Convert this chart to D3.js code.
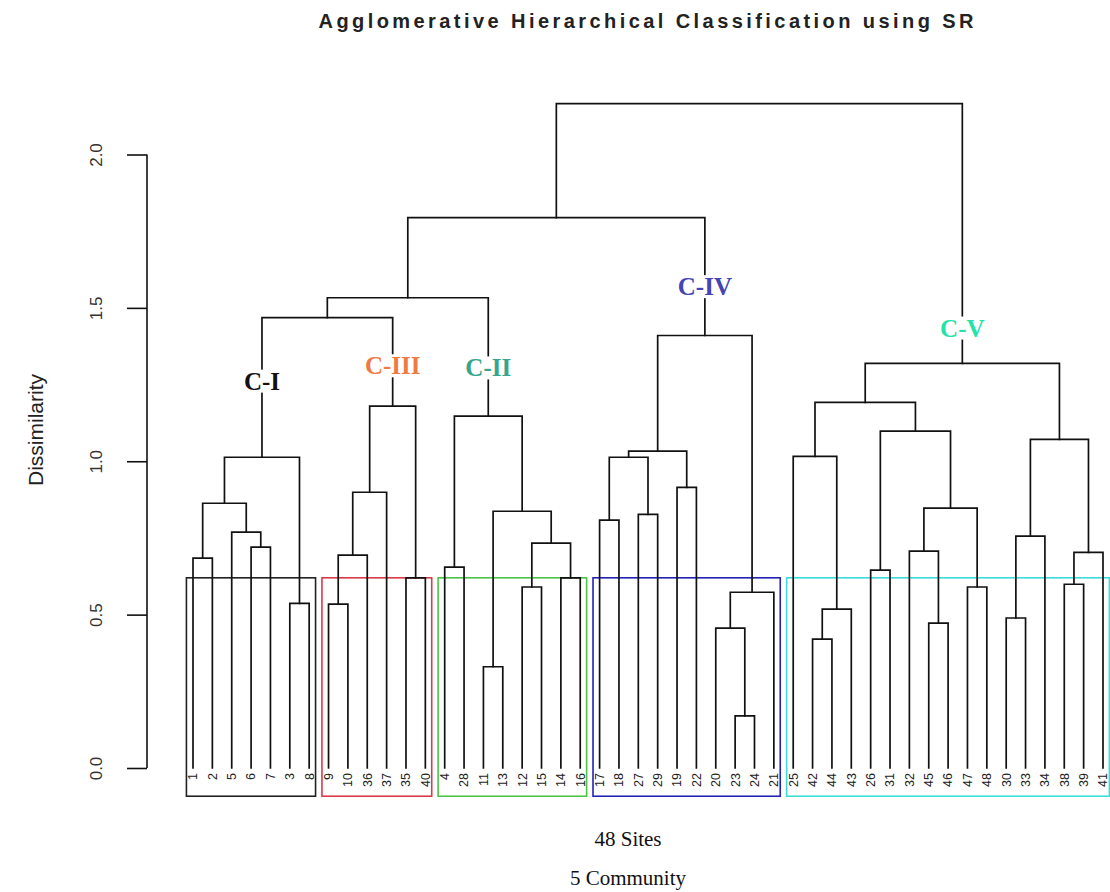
<!DOCTYPE html>
<html>
<head>
<meta charset="utf-8">
<script src="https://cdn.jsdelivr.net/npm/d3@7"></script>
<style>
  html, body { margin: 0; padding: 0; background: #fff; }
  svg { display: block; }
</style>
</head>
<body>
<svg id="chart" width="1110" height="892"></svg>
<script>
// Leaf order of the 48 sites along the x axis (as returned by hclust $order)
const siteOrder = [1, 2, 5, 6, 7, 3, 8, 9, 10, 36, 37, 35, 40, 4, 28, 11, 13, 12, 15, 14, 16,
  17, 18, 27, 29, 19, 22, 20, 23, 24, 21, 25, 42, 44, 43, 26, 31, 32, 45, 46, 47, 48,
  30, 33, 34, 38, 39, 41];

// Merge table in hclust style: negative = site, positive = earlier merge row (1-based)
const mergeLeft  = [-1, -6, -5, 1, -3, 4, -9, 7, 8, -35, 9, -4, -11, -12, -14, 14, 13, 12,
  -17, -27, 19, -19, 21, -23, -20, 25, 23, -42, 28, -25, -26, -45, -32, -47, 33, 31, 30,
  -30, 38, -38, 40, 39, 37, 6, 44, 45, 46];
const mergeRight = [-2, -7, 2, 3, -8, 5, -10, -36, -37, -40, 10, -28, -13, -15, -16, 15, 16, 17,
  -18, -29, 20, -22, 22, -24, 24, -21, 26, -44, -43, 29, -31, -46, 32, -48, 34, 35, 36,
  -33, -34, -39, -41, 41, 42, 11, 18, 27, 43];
const mergeHeight = [0.684, 0.72, 0.769, 0.863, 0.537, 1.013, 0.534, 0.694, 0.899, 0.62, 1.18,
  0.655, 0.33, 0.59, 0.62, 0.733, 0.837, 1.147, 0.808, 0.827, 1.013, 0.915, 1.033, 0.17,
  0.456, 0.573, 1.41, 0.42, 0.518, 1.016, 0.645, 0.472, 0.707, 0.59, 0.847, 1.098, 1.192,
  0.489, 0.756, 0.599, 0.703, 1.071, 1.319, 1.468, 1.533, 1.794, 2.166];

// Five communities: the merge row heading each one, with its name
const communityNode  = [6, 11, 18, 27, 43];
const communityNames = ["C-I", "C-III", "C-II", "C-IV", "C-V"];

// Axis ticks
const yTicks = [0.0, 0.5, 1.0, 1.5, 2.0];

// ---- styling / layout ----
const boxColors   = ["#222222", "#d93a4a", "#4cc447", "#2323b4", "#3ddcd6"];
const labelColors = ["#111111", "#f07a42", "#35a68b", "#4444b2", "#22e3aa"];
const labelHeights = [1.262, 1.312, 1.305, 1.57, 1.435];
const boxTop = 0.62, boxBottom = -0.092;

const svg = d3.select("#chart");

const x = d3.scalePoint().domain(siteOrder).range([193, 1103]);
const step = x.step();
const y = d3.scaleLinear().domain([0, 2]).range([768, 154.5]);

// node positions
const nodeX = [], nodeSpan = [];
function childX(c) { return c < 0 ? x(-c) : nodeX[c - 1]; }
function childH(c) { return c < 0 ? 0 : mergeHeight[c - 1]; }
function childSpan(c) {
  if (c < 0) { const i = siteOrder.indexOf(-c); return [i, i]; }
  return nodeSpan[c - 1];
}
for (let i = 0; i < mergeHeight.length; i++) {
  nodeX[i] = (childX(mergeLeft[i]) + childX(mergeRight[i])) / 2;
  const a = childSpan(mergeLeft[i]), b = childSpan(mergeRight[i]);
  nodeSpan[i] = [Math.min(a[0], b[0]), Math.max(a[1], b[1])];
}

// community boxes
const boxes = svg.append("g").attr("fill", "none").attr("stroke-width", 1.6);
communityNode.forEach((n, k) => {
  const [i0, i1] = nodeSpan[n - 1];
  const x0 = x(siteOrder[i0]) - 0.34 * step;
  const x1 = x(siteOrder[i1]) + 0.33 * step;
  boxes.append("rect")
    .attr("x", x0).attr("y", y(boxTop))
    .attr("width", x1 - x0).attr("height", y(boxBottom) - y(boxTop))
    .attr("stroke", boxColors[k]);
});

// dendrogram branches
const tree = svg.append("g").attr("fill", "none").attr("stroke", "#111")
  .attr("stroke-width", 1.7).attr("stroke-linecap", "square");
mergeHeight.forEach((h, i) => {
  const xl = childX(mergeLeft[i]), xr = childX(mergeRight[i]);
  const hl = childH(mergeLeft[i]), hr = childH(mergeRight[i]);
  tree.append("path")
    .attr("d", `M${xl},${y(hl)}V${y(h)}H${xr}V${y(hr)}`);
});

// leaf labels
svg.append("g").selectAll("text").data(siteOrder).join("text")
  .attr("transform", d => `translate(${x(d)},773) rotate(-90)`)
  .attr("text-anchor", "end").attr("dy", "0.35em")
  .attr("font-family", "Liberation Sans, Arial, sans-serif")
  .attr("font-size", 12.5).attr("fill", "#222")
  .text(d => d);

// y axis
const axis = d3.axisLeft(y).tickValues(yTicks).tickFormat(d3.format(".1f")).tickSize(20);
const ag = svg.append("g").attr("transform", "translate(147,0)").call(axis);
ag.select(".domain").attr("d", `M0,${y(0)}V${y(2)}`).attr("stroke", "#111").attr("stroke-width", 1.6);
ag.selectAll(".tick line").attr("stroke", "#111").attr("stroke-width", 1.6);
ag.selectAll(".tick text")
  .attr("x", null).attr("dy", null)
  .attr("transform", "translate(-45,0) rotate(-90)")
  .attr("text-anchor", "middle")
  .attr("font-family", "Liberation Sans, Arial, sans-serif")
  .attr("font-size", 17).attr("fill", "#333");

svg.append("text")
  .attr("transform", "translate(43,430) rotate(-90)")
  .attr("text-anchor", "middle")
  .attr("font-family", "Liberation Sans, Arial, sans-serif")
  .attr("font-size", 21).attr("fill", "#222")
  .text("Dissimilarity");

// community names on their stems
communityNode.forEach((n, k) => {
  const cx = nodeX[n - 1], cy = y(labelHeights[k]);
  const t = svg.append("text")
    .attr("x", cx).attr("y", cy).attr("dy", "0.35em")
    .attr("text-anchor", "middle")
    .attr("font-family", "Liberation Serif, Times New Roman, serif")
    .attr("font-weight", "bold").attr("font-size", 25)
    .attr("fill", labelColors[k])
    .text(communityNames[k]);
  const bb = t.node().getBBox();
  svg.insert("rect", () => t.node())
    .attr("x", bb.x - 3).attr("y", bb.y + 2)
    .attr("width", bb.width + 6).attr("height", bb.height - 4)
    .attr("fill", "#fff");
});

// title
svg.append("text")
  .attr("x", 646).attr("y", 28)
  .attr("text-anchor", "middle")
  .attr("font-family", "Liberation Sans, Arial, sans-serif")
  .attr("font-weight", "bold").attr("font-size", 20)
  .attr("textLength", 655).attr("lengthAdjust", "spacing")
  .attr("fill", "#222")
  .text("Agglomerative Hierarchical Classification using SR");

// x captions
svg.append("text")
  .attr("x", 628).attr("y", 846).attr("text-anchor", "middle")
  .attr("font-family", "Liberation Serif, Times New Roman, serif")
  .attr("font-size", 21).attr("fill", "#111")
  .text("48 Sites");
svg.append("text")
  .attr("x", 628).attr("y", 885).attr("text-anchor", "middle")
  .attr("font-family", "Liberation Serif, Times New Roman, serif")
  .attr("font-size", 21).attr("fill", "#111")
  .text("5 Community");
</script>
</body>
</html>
